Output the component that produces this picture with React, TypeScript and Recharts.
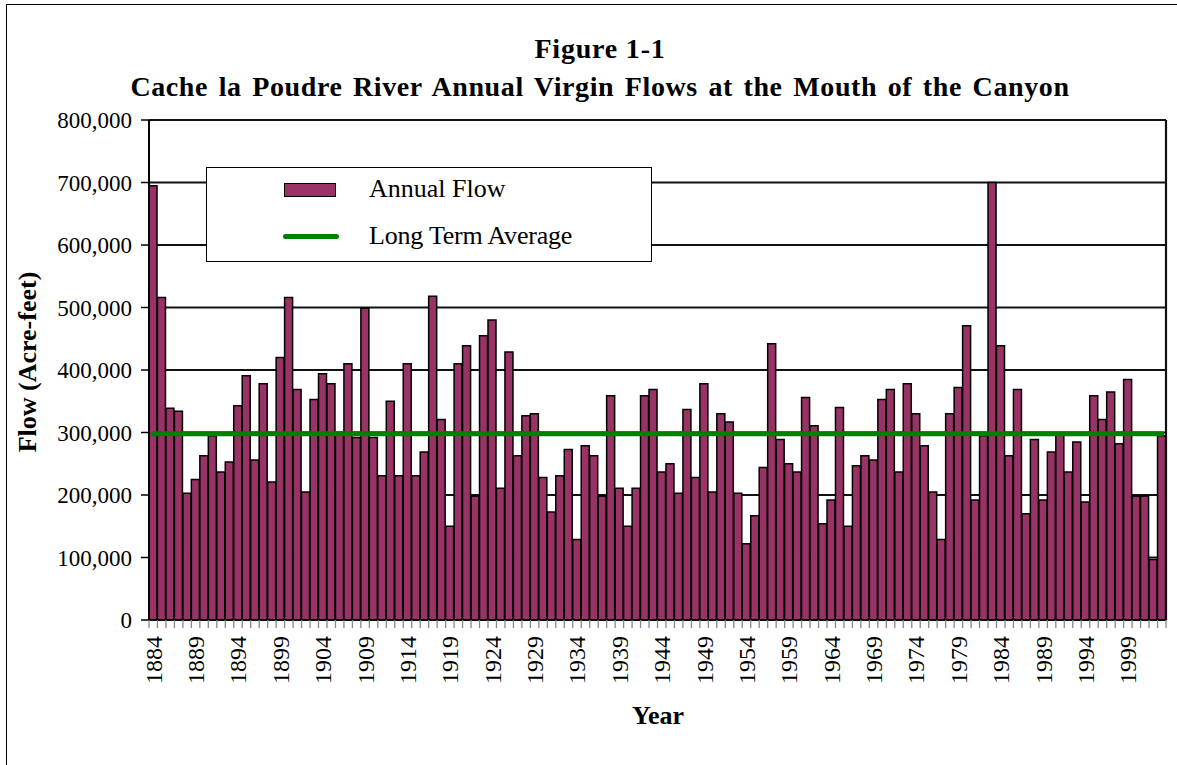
import React from "react";
import {
  ComposedChart,
  Bar,
  Line,
  XAxis,
  YAxis,
  CartesianGrid,
  Legend,
} from "recharts";

const FIRST_YEAR = 1884;
const annualFlow = [
  695000, 516000, 339000, 334000, 203000, 225000, 263000, 295000, 237000, 253000,
  343000, 391000, 256000, 378000, 221000, 420000, 516000, 369000, 205000, 353000,
  394000, 378000, 300000, 410000, 292000, 499000, 292000, 231000, 350000, 231000,
  410000, 231000, 269000, 518000, 321000, 150000, 410000, 439000, 198000, 455000,
  480000, 211000, 429000, 263000, 327000, 330000, 228000, 173000, 231000, 273000,
  129000, 279000, 263000, 198000, 359000, 211000, 150000, 211000, 359000, 369000,
  237000, 250000, 203000, 337000, 228000, 378000, 205000, 330000, 317000, 203000,
  122000, 167000, 244000, 442000, 289000, 250000, 237000, 356000, 311000, 154000,
  192000, 340000, 150000, 247000, 263000, 256000, 353000, 369000, 237000, 378000,
  330000, 279000, 205000, 129000, 330000, 372000, 471000, 192000, 295000, 700000,
  439000, 263000, 369000, 170000, 289000, 192000, 269000, 296000, 237000, 285000,
  189000, 359000, 321000, 365000, 282000, 385000, 198000, 198000, 97000, 295000,
];
const years = annualFlow.map((_, i) => FIRST_YEAR + i);
const LONG_TERM_AVERAGE = 298000;
const yTicks = [0, 100000, 200000, 300000, 400000, 500000, 600000, 700000, 800000];

const data = years.map((y, i) => ({
  year: y,
  flow: annualFlow[i],
  avg: LONG_TERM_AVERAGE,
}));

const W = 1177;
const H = 765;
const MARGIN = { top: 120, right: 11, bottom: 0, left: 0 };
const Y_AXIS_W = 149;
const PLOT_W = W - MARGIN.left - MARGIN.right - Y_AXIS_W;
const BAND = PLOT_W / data.length;

const FONT = '"Liberation Serif", "Times New Roman", serif';
const PLUM = "#993366";
const GREEN = "#008000";

const XTick = (props: any) => {
  const { x, y, payload, index } = props;
  const year = payload.value;
  const show = (year - FIRST_YEAR) % 5 === 0;
  const last = index === data.length - 1;
  return (
    <g transform={`translate(${x},${y})`}>
      <line x1={-BAND / 2} x2={-BAND / 2} y1={0} y2={8} stroke="#888" strokeWidth={1.3} />
      {last && <line x1={BAND / 2} x2={BAND / 2} y1={0} y2={8} stroke="#888" strokeWidth={1.3} />}
      {show && (
        <text
          transform="rotate(-90)"
          x={-16}
          y={0}
          dy="0.35em"
          textAnchor="end"
          fontSize={24}
          fontFamily={FONT}
          fill="#000"
        >
          {year}
        </text>
      )}
    </g>
  );
};

const LegendBox = () => (
  <div
    style={{
      width: 446,
      height: 95,
      boxSizing: "border-box",
      border: "1.5px solid #000",
      background: "#fff",
      position: "relative",
      fontFamily: FONT,
      fontSize: 26,
      color: "#000",
    }}
  >
    <div
      style={{
        position: "absolute",
        left: 77,
        top: 15,
        width: 52,
        height: 14,
        boxSizing: "border-box",
        background: PLUM,
        border: "1.5px solid #000",
      }}
    />
    <div style={{ position: "absolute", left: 162, top: 6, lineHeight: "30px" }}>Annual Flow</div>
    <div
      style={{
        position: "absolute",
        left: 76,
        top: 66,
        width: 56,
        height: 5,
        borderRadius: 3,
        background: GREEN,
      }}
    />
    <div style={{ position: "absolute", left: 162, top: 53, lineHeight: "30px", letterSpacing: -0.2 }}>
      Long Term Average
    </div>
  </div>
);

export default function App() {
  return (
    <div style={{ position: "absolute", left: 0, top: 0, width: W, height: H, background: "#fff" }}>
      <div
        style={{
          position: "absolute",
          left: 6,
          top: 4,
          width: W - 6,
          height: H - 4,
          boxSizing: "border-box",
          borderLeft: "1.5px solid #000",
          borderTop: "1.5px solid #000",
        }}
      />
      <div
        style={{
          position: "absolute",
          left: 0,
          width: 1200,
          top: 30,
          textAlign: "center",
          fontFamily: FONT,
          fontWeight: "bold",
          fontSize: 28,
          lineHeight: "38px",
          color: "#000",
        }}
      >
        <div style={{ letterSpacing: 0.8 }}>Figure 1-1</div>
        <div style={{ letterSpacing: 0.6, wordSpacing: 3 }}>
          Cache la Poudre River Annual Virgin Flows at the Mouth of the Canyon
        </div>
      </div>
      <ComposedChart
        width={W}
        height={H}
        data={data}
        margin={MARGIN}
        barCategoryGap={0}
        barGap={0}
        style={{ position: "absolute", left: 0, top: 0 }}
      >
        <CartesianGrid
          yAxisId="left"
          horizontal
          vertical
          verticalCoordinatesGenerator={({ offset }: any) => [offset.left + offset.width]}
          stroke="#111"
          strokeWidth={2.2}
        />
        <XAxis
          dataKey="year"
          interval={0}
          height={145}
          tickSize={0}
          tickMargin={0}
          tickLine={false}
          tick={<XTick />}
          axisLine={{ stroke: "#000", strokeWidth: 2 }}
        />
        <YAxis
          yAxisId="left"
          width={Y_AXIS_W}
          domain={[0, 800000]}
          ticks={yTicks}
          interval={0}
          tickSize={8}
          tickMargin={9}
          tickFormatter={(v: number) => v.toLocaleString("en-US")}
          tick={{ fontFamily: FONT, fontSize: 23, fill: "#000" }}
          tickLine={{ stroke: "#000", strokeWidth: 1.5 }}
          axisLine={{ stroke: "#000", strokeWidth: 2 }}
        />
        <Bar
          yAxisId="left"
          dataKey="flow"
          name="Annual Flow"
          fill={PLUM}
          stroke="#000"
          strokeWidth={1.5}
          isAnimationActive={false}
        />
        <Line
          yAxisId="left"
          dataKey="avg"
          name="Long Term Average"
          stroke={GREEN}
          strokeWidth={5}
          strokeLinecap="round"
          dot={false}
          activeDot={false}
          isAnimationActive={false}
        />
        <Legend
          layout="vertical"
          align="center"
          verticalAlign="middle"
          content={<LegendBox />}
          wrapperStyle={{ left: 206, top: 167, width: 446, height: 95 }}
        />
      </ComposedChart>
      <div
        style={{
          position: "absolute",
          left: 28,
          top: 362,
          transform: "translate(-50%, -50%) rotate(-90deg)",
          whiteSpace: "nowrap",
          fontFamily: FONT,
          fontWeight: "bold",
          fontSize: 26,
          color: "#000",
        }}
      >
        Flow (Acre-feet)
      </div>
      <div
        style={{
          position: "absolute",
          left: 658,
          top: 716,
          transform: "translate(-50%, -50%)",
          whiteSpace: "nowrap",
          fontFamily: FONT,
          fontWeight: "bold",
          fontSize: 26,
          color: "#000",
        }}
      >
        Year
      </div>
    </div>
  );
}
